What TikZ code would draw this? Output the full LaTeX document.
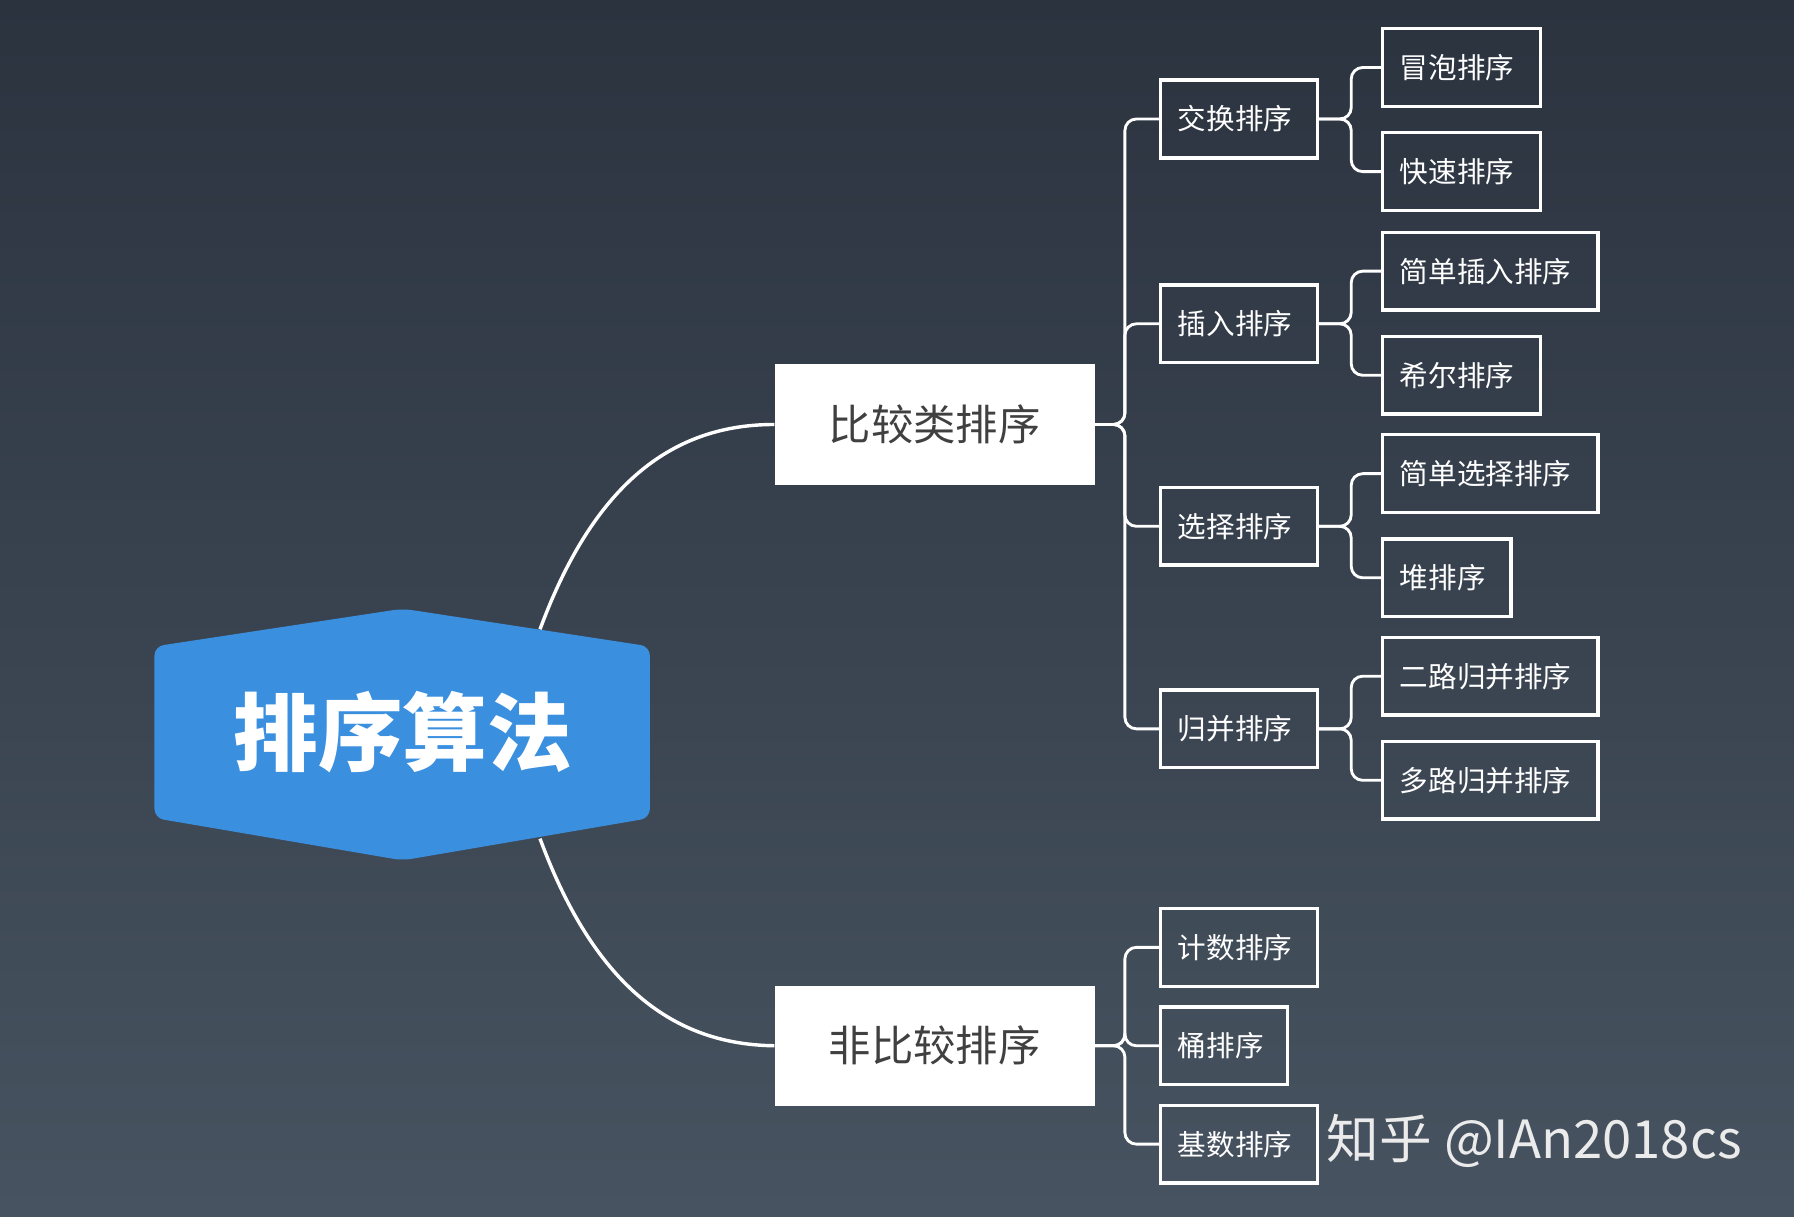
\documentclass[tikz,border=0pt]{standalone}
\usepackage{fontspec}
\setmainfont{Noto Sans CJK SC}
\newfontfamily\wmfont{Noto Sans CJK SC}
\definecolor{bgtop}{RGB}{43,51,63}
\definecolor{bgbot}{RGB}{71,83,96}
\definecolor{hexblue}{RGB}{58,143,223}
\begin{document}
\begin{tikzpicture}[x=1pt,y=-1pt,
  lvone/.style={draw=none,fill=white,text=black!75,minimum width=280,minimum height=105,font=\fontsize{37}{40}\selectfont},
  lvtwo/.style={draw=white,line width=3pt,text=white,minimum height=68,inner xsep=15,anchor=west,align=left,text width=#1-30,font=\fontsize{25}{28}\selectfont},
  link/.style={draw=white,line width=2.5pt,rounded corners=10},
  curve/.style={draw=white,line width=3pt}]
\shade[top color=bgtop,bottom color=bgbot] (0,0) rectangle (1568,1063);
\useasboundingbox (0,0) rectangle (1568,1063);
% hexagon
\fill[hexblue,rounded corners=8] (135,565) -- (352,532) -- (568,565) -- (568,715) -- (352,752) -- (135,715) -- cycle;
\node[text=white,font=\fontsize{74}{78}\selectfont\bfseries] (root) at (352,640) {排序算法};
\coordinate (ru) at (472,550);
\coordinate (rd) at (472,733);
% level 1
\node[lvone] (cmp) at (817,371) {比较类排序};
\node[lvone] (ncmp) at (817,914) {非比较排序};
\draw[curve] (ru) .. controls (520,420) and (590,371) .. (cmp.west);
\draw[curve] (rd) .. controls (520,863) and (590,913) .. (ncmp.west);
% level 2
\node[lvtwo=137] (swap) at (1013,104) {交换排序};
\node[lvtwo=137] (ins) at (1013,283) {插入排序};
\node[lvtwo=137] (sel) at (1013,460) {选择排序};
\node[lvtwo=137] (mer) at (1013,637) {归并排序};
\node[lvtwo=137] (cnt) at (1013,828) {计数排序};
\node[lvtwo=111] (bkt) at (1013,914) {桶排序};
\node[lvtwo=137] (rad) at (1013,1000) {基数排序};
\foreach \c in {swap,ins,sel,mer}
  \draw[link] (cmp.east) -- ([xshift=26]cmp.east) |- (\c.west);
\foreach \c in {cnt,bkt,rad}
  \draw[link] (ncmp.east) -- ([xshift=26]ncmp.east) |- (\c.west);
% level 3
\node[lvtwo=138] (bub) at (1207,59) {冒泡排序};
\node[lvtwo=138] (qck) at (1207,150) {快速排序};
\node[lvtwo=188] (sins) at (1207,237) {简单插入排序};
\node[lvtwo=138] (shl) at (1207,328) {希尔排序};
\node[lvtwo=188] (ssel) at (1207,414) {简单选择排序};
\node[lvtwo=112] (hp) at (1207,505) {堆排序};
\node[lvtwo=188] (m2) at (1207,591) {二路归并排序};
\node[lvtwo=188] (mk) at (1207,682) {多路归并排序};
\foreach \p/\a/\b in {swap/bub/qck,ins/sins/shl,sel/ssel/hp,mer/m2/mk}{
  \draw[link] (\p.east) -- ([xshift=28]\p.east) |- (\a.west);
  \draw[link] (\p.east) -- ([xshift=28]\p.east) |- (\b.west);
}
\node[text=white!92!black,font=\wmfont\fontsize{46}{50}\selectfont] (wm) at (1341,997) {知乎 @IAn2018cs};
\end{tikzpicture}
\end{document}
